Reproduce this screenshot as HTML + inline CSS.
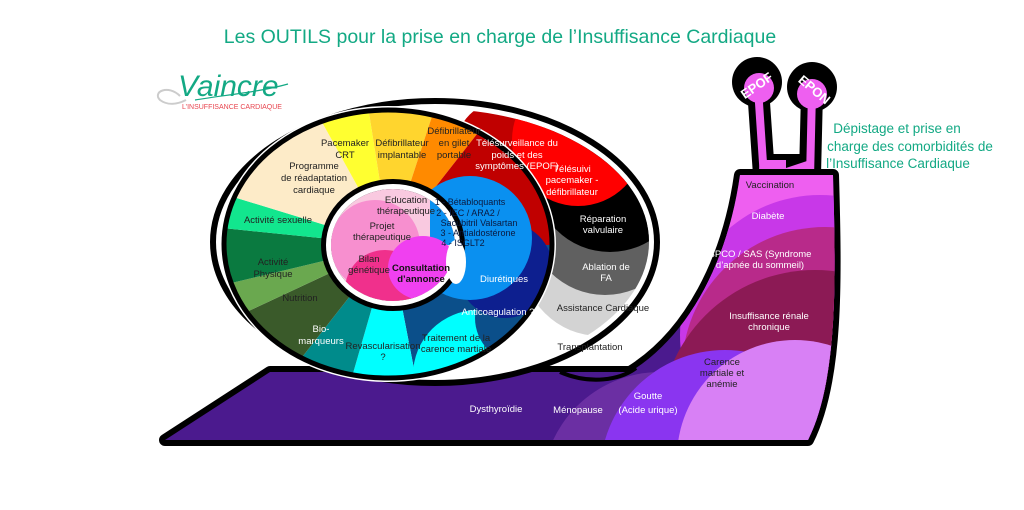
<!DOCTYPE html>
<html><head><meta charset="utf-8"><style>
html,body{margin:0;padding:0;background:#fff;width:1024px;height:510px;overflow:hidden;}
svg{display:block;}
text{font-family:"Liberation Sans",sans-serif;}
</style></head><body>
<svg width="1024" height="510" viewBox="0 0 1024 510" xmlns="http://www.w3.org/2000/svg">
<defs>
<clipPath id="bodyc"><path d="M165,440 L270,372 L630,372 C690,335 728,260 740,175 L833,175 C836,280 838,380 808,440 Z"/></clipPath>
<clipPath id="e1c"><ellipse cx="435" cy="242" rx="214" ry="133"/></clipPath>
<clipPath id="e2c"><ellipse cx="388" cy="244" rx="164" ry="134"/></clipPath>
<clipPath id="corec"><ellipse cx="393" cy="245" rx="62" ry="56"/></clipPath>
</defs>

<text x="500" y="43" font-size="19.5" fill="#13a984" text-anchor="middle">Les OUTILS pour la prise en charge de l’Insuffisance Cardiaque</text>

<path d="M180,96 C168,84 152,92 160,100 C168,106 178,104 186,100" fill="none" stroke="#ccc" stroke-width="2"/>
<text x="178" y="96" font-size="30" fill="#13a984" font-family="Liberation Serif,serif" font-style="italic">Vaincre</text>
<path d="M195,100 C225,95 260,92 288,84" fill="none" stroke="#13a984" stroke-width="1.2"/>
<text x="232" y="109" font-size="7" fill="#e8454f" text-anchor="middle">L’INSUFFISANCE CARDIAQUE</text>

<g font-size="13.5" fill="#13a984" text-anchor="middle">
<text x="897" y="133">Dépistage et prise en</text>
<text x="910" y="151">charge des comorbidités de</text>
<text x="898" y="168">l’Insuffisance Cardiaque</text>
</g>

<g stroke="#000" stroke-linecap="round" fill="none">
<path d="M758,88 L764,175" stroke-width="22"/>
<path d="M812,92 L810,175" stroke-width="22"/>
<path d="M764,165 L810,165" stroke-width="22"/>
</g>
<circle cx="757" cy="82" r="25" fill="#000"/>
<circle cx="812" cy="87" r="25" fill="#000"/>
<rect x="774" y="120" width="24" height="30" fill="#fff"/>
<g stroke="#ee5ff0" stroke-linecap="round" fill="none">
<path d="M758,88 L764,178" stroke-width="8"/>
<path d="M812,92 L810,178" stroke-width="8"/>
</g>
<path d="M760,160 L786,160 L786,168 L810,160 L812,180 L758,180 Z" fill="#ee5ff0"/>
<circle cx="759" cy="88" r="15" fill="#ee5ff0"/>
<circle cx="812" cy="94" r="15" fill="#ee5ff0"/>
<text x="757" y="90" font-size="13" font-weight="bold" fill="#fff" text-anchor="middle" transform="rotate(-35 757 86)">EPOF</text>
<text x="814" y="94" font-size="13" font-weight="bold" fill="#fff" text-anchor="middle" transform="rotate(40 814 90)">EPON</text>

<path d="M165,440 L270,372 L630,372 C690,335 728,260 740,175 L833,175 C836,280 838,380 808,440 Z" fill="#000" stroke="#000" stroke-width="12" stroke-linejoin="round"/>
<g clip-path="url(#bodyc)">
<rect x="150" y="150" width="720" height="300" fill="#4b1a8e"/>
<circle cx="660" cy="490" r="118" fill="#6b2fa3"/>
<rect x="690" y="150" width="160" height="300" fill="#ee5ff0"/>
<circle cx="820" cy="335" r="140" fill="#c838e8"/>
<circle cx="825" cy="370" r="143" fill="#b82a8a"/>
<circle cx="815" cy="425" r="155" fill="#8c1a55"/>
<circle cx="725" cy="475" r="125" fill="#8a35f0"/>
<circle cx="795" cy="458" r="118" fill="#d880f5"/>
</g>

<ellipse cx="435" cy="242" rx="222" ry="141" fill="#fff" stroke="#000" stroke-width="6"/>
<g clip-path="url(#e1c)">
<rect x="200" y="100" width="470" height="300" fill="#fff"/>
<circle cx="600" cy="258" r="78" fill="#d3d3d3"/>
<circle cx="605" cy="218" r="77" fill="#606060"/>
<circle cx="610" cy="176" r="76" fill="#000"/>
<circle cx="505" cy="150" r="50" fill="#c00000"/>
<circle cx="578" cy="140" r="66" fill="#ff0000"/>
</g>

<ellipse cx="388" cy="244" rx="168" ry="138" fill="#fff"/>
<g clip-path="url(#e2c)">
<g transform="translate(390,245)">
<path d="M0,0 L300,0 A300,300 0 0 1 57,294 Z" fill="#0b4f8a"/>
<path d="M0,0 L57,294 A300,300 0 0 1 -83,288 Z" fill="#00ffff"/>
<path d="M0,0 L-83,288 A300,300 0 0 1 -185,236 Z" fill="#008b8b"/>
<path d="M0,0 L-185,236 A300,300 0 0 1 -272,127 Z" fill="#3a5a2a"/>
<path d="M0,0 L-272,127 A300,300 0 0 1 -292,70 Z" fill="#6aa84f"/>
<path d="M0,0 L-292,70 A300,300 0 0 1 -296,-30 Z" fill="#0a7a40"/>
<path d="M0,0 L-296,-30 A300,300 0 0 1 -287,-88 Z" fill="#12e68e"/>
<path d="M0,0 L-287,-88 A300,300 0 0 1 -145,-262 Z" fill="#fdebc8"/>
<path d="M0,0 L-145,-262 A300,300 0 0 1 -47,-296 Z" fill="#ffff30"/>
<path d="M0,0 L-47,-296 A300,300 0 0 1 93,-285 Z" fill="#ffd52e"/>
<path d="M0,0 L93,-285 A300,300 0 0 1 185,-236 Z" fill="#ff8a00"/>
<path d="M0,0 L185,-236 A300,300 0 0 1 300,0 Z" fill="#c00000"/>
</g>
<circle cx="478" cy="375" r="65" fill="#00ffff"/>
<circle cx="520" cy="318" r="45" fill="#0b4f8a"/>
<circle cx="505" cy="270" r="48" fill="#0d1f8f"/>
<circle cx="470" cy="238" r="62" fill="#0a90f0"/>
</g>
<ellipse cx="388" cy="244" rx="164" ry="134" fill="none" stroke="#000" stroke-width="5"/>
<path d="M560,372 C590,385 620,380 636,368" fill="none" stroke="#000" stroke-width="4"/>

<ellipse cx="393" cy="245" rx="72" ry="66" fill="#000"/>
<ellipse cx="393" cy="245" rx="67" ry="61" fill="#fff"/>
<ellipse cx="393" cy="245" rx="62" ry="56" fill="#000"/>
<g clip-path="url(#corec)">
<rect x="320" y="185" width="150" height="120" fill="#f9c9e0"/>
<rect x="430" y="185" width="40" height="60" fill="#0a90f0"/>
<circle cx="375" cy="245" r="45" fill="#f78fcf"/>
<circle cx="385" cy="290" r="40" fill="#f0308c"/>
<ellipse cx="423" cy="268" rx="35" ry="32" fill="#f040f0"/>
</g>
<ellipse cx="456" cy="262" rx="10" ry="22" fill="#fff"/>

<g font-size="9.5" text-anchor="middle" fill="#222">
<text x="345" y="146">Pacemaker</text><text x="345" y="158">CRT</text>
<text x="402" y="146">Défibrillateur</text><text x="402" y="158">implantable</text>
<text x="454" y="134">Défibrillateur</text><text x="454" y="146">en gilet</text><text x="454" y="158">portable</text>
<text x="314" y="169">Programme</text><text x="314" y="181">de réadaptation</text><text x="314" y="193">cardiaque</text>
<text x="278" y="223">Activité sexuelle</text>
<text x="273" y="265">Activité</text><text x="273" y="277">Physique</text>
<text x="300" y="301">Nutrition</text>
<text x="383" y="349">Revascularisation</text><text x="383" y="360">?</text>
<text x="456" y="341">Traitement de la</text><text x="456" y="352">carence martiale</text>
<text x="603" y="311">Assistance Cardiaque</text>
<text x="590" y="350">Transplantation</text>
<text x="406" y="203">Education</text><text x="406" y="214">thérapeutique</text>
<text x="382" y="229">Projet</text><text x="382" y="240">thérapeutique</text>
<text x="369" y="262">Bilan</text><text x="369" y="273">génétique</text>
<text x="421" y="271" font-weight="bold" fill="#111">Consultation</text><text x="421" y="282" font-weight="bold" fill="#111">d’annonce</text>
<g font-size="9" fill="#0a1a40">
<text x="470" y="205">1 - Bétabloquants</text>
<text x="468" y="216">2 - IEC / ARA2 /</text>
<text x="479" y="226">Sacubitril Valsartan</text>
<text x="478" y="236">3 - Antialdostérone</text>
<text x="463" y="246">4 - ISGLT2</text>
</g>
<text x="770" y="188">Vaccination</text>
<text x="722" y="365">Carence</text><text x="722" y="376">martiale et</text><text x="722" y="387">anémie</text>
</g>
<g font-size="9.5" text-anchor="middle" fill="#fff">
<text x="517" y="146">Télésurveillance du</text><text x="517" y="158">poids et des</text><text x="517" y="169">symptômes (EPOF)</text>
<text x="572" y="172">Télésuivi</text><text x="572" y="183">pacemaker -</text><text x="572" y="195">défibrillateur</text>
<text x="603" y="222">Réparation</text><text x="603" y="233">valvulaire</text>
<text x="606" y="270">Ablation de</text><text x="606" y="281">FA</text>
<text x="321" y="332">Bio-</text><text x="321" y="344">marqueurs</text>
<text x="498" y="315">Anticoagulation ?</text>
<text x="504" y="282">Diurétiques</text>
<text x="496" y="412">Dysthyroïdie</text>
<text x="578" y="413">Ménopause</text>
<text x="648" y="399">Goutte</text><text x="648" y="413">(Acide urique)</text>
<text x="769" y="319">Insuffisance rénale</text><text x="769" y="330">chronique</text>
<text x="760" y="257">BPCO / SAS (Syndrome</text><text x="760" y="268">d’apnée du sommeil)</text>
<text x="768" y="219">Diabète</text>
</g>
</svg>
</body></html>
